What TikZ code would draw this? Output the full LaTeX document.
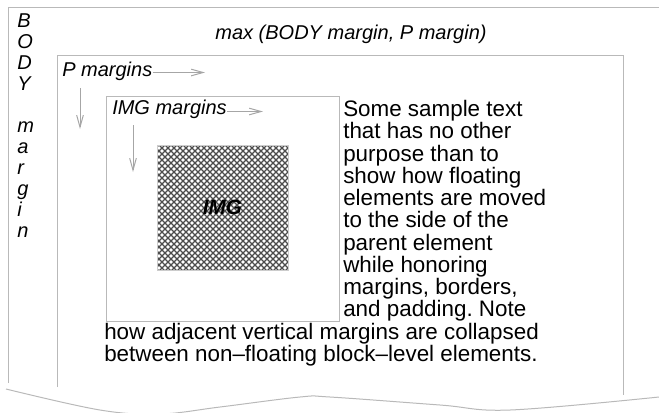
\documentclass[tikz,border=0pt]{standalone}
\usepackage{fontspec}
\setmainfont{Liberation Sans}
\usetikzlibrary{arrows.meta,patterns,positioning}

\pgfdeclarepatternformonly{imgweave}{\pgfpoint{-1pt}{-1pt}}{\pgfpoint{5.5pt}{5.5pt}}{\pgfpoint{4.5pt}{4.5pt}}{%
  \pgfsetlinewidth{0.95pt}%
  \pgfpathmoveto{\pgfpointorigin}\pgfpathlineto{\pgfpoint{4.5pt}{4.5pt}}%
  \pgfpathmoveto{\pgfpoint{0pt}{4.5pt}}\pgfpathlineto{\pgfpoint{4.5pt}{0pt}}%
  \pgfusepath{stroke}}

\frenchspacing
\begin{document}
\begin{tikzpicture}[x=0.75pt, y=-0.75pt,
  nodes={inner sep=0pt},
  frame/.style={draw=gray!55, line width=0.75pt},
  marg/.style={draw=gray!70, line width=0.75pt,
    -{Straight Barb[length=9pt,width=5pt]}},
  lbl/.style={font=\fontsize{15}{15.75}\selectfont\itshape},
  para/.style={font=\fontsize{16.8}{16.7}\selectfont, align=left}
  ]
  \useasboundingbox (0,0) rectangle (659,412);
  % body edge and torn bottom
  \draw[frame] (8,383) |- (659,7);
  \draw[frame] plot[smooth, tension=0.6] coordinates {(6,389) (100,410)
    (160,414) (220,407) (300,397) (330,397) (440,405) (510,410) (659,397)};
  % P box
  \draw[frame] (57,387) |- (623,55) -- (623,395);
  % IMG margin box
  \draw[frame] (106,96) rectangle (339,321);
  \node (img) [frame, draw=gray!40, preaction={fill=white}, pattern=imgweave,
    pattern color=black!70, minimum width=98.25pt, minimum height=93.75pt,
    font=\fontsize{15.5}{16}\selectfont\bfseries\itshape]
    at (222.5,207.5) {IMG};

  \node (bodylbl) [lbl, align=left, anchor=north west] at (17,13)
    {B\\O\\D\\Y\\~\\m\\a\\r\\g\\i\\n};
  \node (maxlbl) [lbl, anchor=base] at (351,39) {max (BODY margin, P margin)};
  \node (plbl) [lbl, anchor=base west] at (62,76) {P margins};
  \node (imglbl) [lbl, anchor=base west] at (112,114) {IMG margins};

  \coordinate (p-right) at (205,72.5);
  \coordinate (p-down) at (80,129);
  \coordinate (img-right) at (263,111.5);
  \coordinate (img-down) at (133,172);
  \draw[marg] (plbl.east |- p-right) -- (p-right);
  \draw[marg] ([yshift=-6pt]plbl.south -| p-down) -- (p-down);
  \draw[marg] (imglbl.east |- img-right) -- (img-right);
  \draw[marg] ([yshift=-5.25pt]imglbl.south -| img-down) -- (img-down);

  \node (floattxt) [para, anchor=north west] at (343,100)
    {Some sample text\\that has no other\\purpose than to\\show how floating\\
     elements are moved\\to the side of the\\parent element\\while honoring\\
     margins, borders,\\and padding. Note};
  \node (belowtxt) [para, anchor=north west] at (104,323)
    {how adjacent vertical margins are collapsed\\
     between non–floating block–level elements.};
\end{tikzpicture}
\end{document}
